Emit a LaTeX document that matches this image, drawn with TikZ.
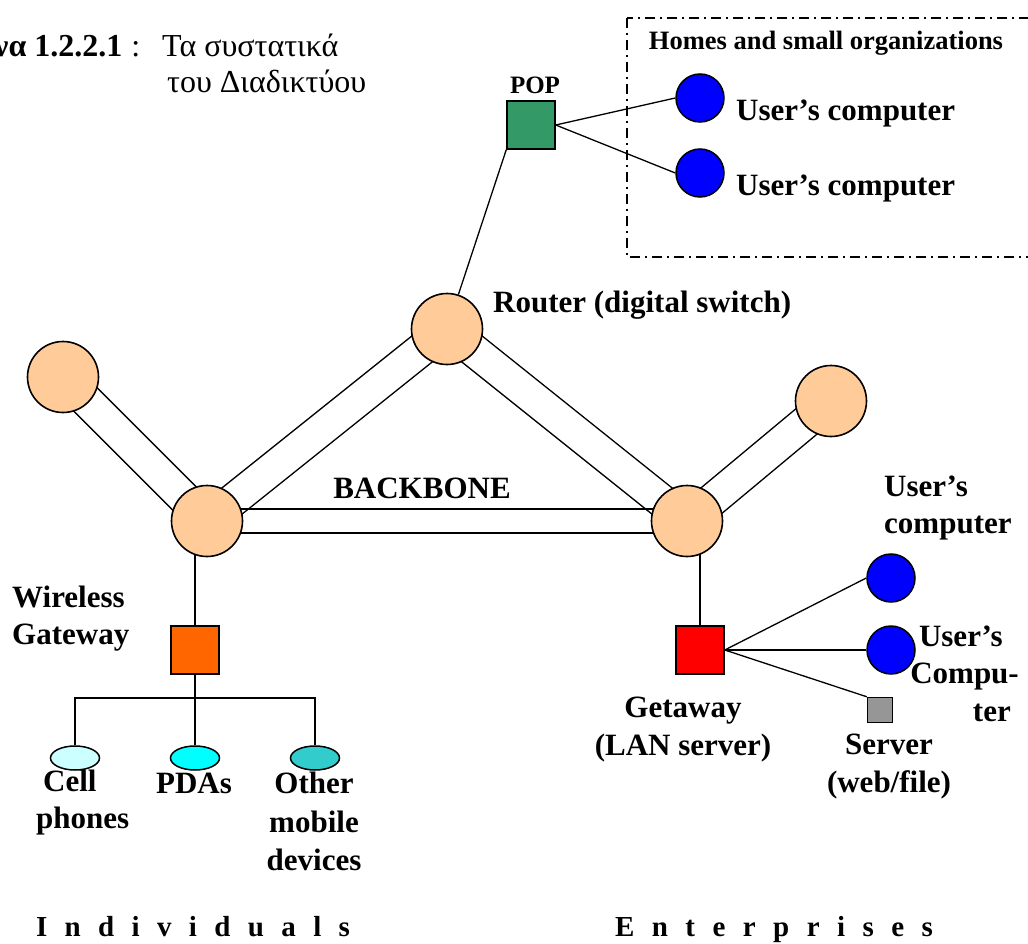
\documentclass[tikz,border=0pt]{standalone}
\usepackage{fontspec}
\setmainfont{Liberation Serif}
\usetikzlibrary{calc,shapes.geometric}
\pgfdeclarelayer{background}
\pgfsetlayers{background,main}

\definecolor{peach}{HTML}{FFCC99}
\definecolor{popgreen}{HTML}{339966}
\definecolor{pcblue}{HTML}{0000FF}
\definecolor{wlorange}{HTML}{FF6600}
\definecolor{lanred}{HTML}{FF0000}
\definecolor{srvgray}{HTML}{969696}
\definecolor{cellc}{HTML}{CCFFFF}
\definecolor{pdac}{HTML}{00FFFF}
\definecolor{otherc}{HTML}{33CCCC}

\tikzset{
  wire/.style={line width=1.3pt},
  router/.style={circle, draw, line width=1.6pt, fill=peach, minimum size=71pt, inner sep=0pt},
  pc/.style={circle, draw, line width=1.5pt, fill=pcblue, minimum size=48pt, inner sep=0pt},
  gate/.style={rectangle, draw, line width=1.5pt, minimum size=48pt, inner sep=0pt},
  device/.style={ellipse, draw, line width=1.5pt, minimum width=49pt, minimum height=24pt, inner sep=0pt},
  lbl/.style={font=\bfseries\fontsize{31}{37.5}\selectfont, inner sep=0pt, align=center},
  small/.style={font=\bfseries\fontsize{25}{30}\selectfont, inner sep=0pt},
  group/.style={font=\bfseries\fontsize{29}{34}\selectfont, inner sep=0pt},
  title/.style={font=\fontsize{32}{36}\selectfont, inner sep=0pt, anchor=base west},
}

\begin{document}
\begin{tikzpicture}[x=1pt, y=-1pt]
\useasboundingbox (0,0) rectangle (1028,944);

% title
\node[title] (t1) at (-6,57) {{\bfseries να 1.2.2.1}\hspace{9pt}:\hspace{22pt}Τα συστατικά};
\node[title] (t2) at (167,93) {του Διαδικτύου};

% homes and small organizations
\draw[line width=2pt, dash pattern=on 10pt off 5pt on 2pt off 5pt] (627,18) rectangle (1040,257);
\node[font=\bfseries\fontsize{26.5}{30}\selectfont, inner sep=0pt] (homes) at (826,43) {Homes and small organizations};
\node[gate, fill=popgreen] (pop) at (531,125) {};
\node[small] (popl) at (535,85) {POP};
\node[pc] (hc1) at (700,98) {};
\node[pc] (hc2) at (700,173) {};
\node[lbl, anchor=west] (hc1l) at (736,113) {User’s computer};
\node[lbl, anchor=west] (hc2l) at (736,188) {User’s computer};
\draw[wire] (pop.east) -- (hc1.west);
\draw[wire] (pop.east) -- (hc2.west);

% backbone routers
\node[router] (rtop) at (447,329) {};
\node[router] (rfarL) at (63,377) {};
\node[router] (hubL) at (207,521) {};
\node[router] (hubR) at (687,521) {};
\node[router] (rfarR) at (831,401) {};
\node[lbl, anchor=west] (rtopl) at (493,305) {Router (digital switch)};
\node[lbl] (bbl) at (422,488) {BACKBONE};
\draw[wire] (pop.south west) -- (rtop);

% gateways
\node[gate, fill=wlorange] (wgw) at (195,650) {};
\node[gate, fill=lanred] (gwy) at (700,650) {};

% double-line trunks and drops, kept behind the routers
\begin{pgfonlayer}{background}
\foreach \a/\b/\w in {rfarL/hubL/16.5, hubL/rtop/16.5, rtop/hubR/16.5, hubR/rfarR/16.5, hubL/hubR/12}{
  \draw[wire] ($(\a)!\w pt!90:(\b)$) -- ($(\b)!\w pt!-90:(\a)$);
  \draw[wire] ($(\a)!\w pt!-90:(\b)$) -- ($(\b)!\w pt!90:(\a)$);
}
\draw[wire] (wgw.north) -- (wgw.north |- hubL.center);
\draw[wire] (gwy.north) -- (gwy.north |- hubR.center);
\end{pgfonlayer}

% individuals
\node[lbl, align=left, anchor=west] (wgwl) at (12,618.5) {Wireless\\Gateway};
\node[device, fill=cellc] (cell) at (75,758) {};
\node[device, fill=pdac] (pda) at (195,758) {};
\node[device, fill=otherc] (other) at (315,758) {};
\coordinate (br) at (195,698);
\draw[wire] (wgw.south) -- (br);
\draw[wire] (cell.north) |- (br) -| (other.north);
\draw[wire] (pda.north) -- (br);
\node[lbl, align=left, anchor=west] (celll) at (36,802.5) {\hspace*{7pt}Cell\\phones};
\node[lbl] (pdal) at (194,783) {PDAs};
\node[lbl, font=\bfseries\fontsize{31}{38.5}\selectfont] (otherl) at (314,821.5) {Other\\mobile\\devices};

% enterprises
\node[pc] (uc1) at (891,578) {};
\node[pc] (uc2) at (891,650) {};
\node[rectangle, draw, line width=1.5pt, fill=srvgray, minimum size=25pt, inner sep=0pt] (srv) at (880,710) {};
\draw[wire] (gwy.east) -- (uc1.west);
\draw[wire] (gwy.east) -- (uc2.west);
\draw[wire] (gwy.east) -- (srv.north west);
\node[lbl, align=left, anchor=west] (uc1l) at (884,508) {User’s\\computer};
\node[lbl, align=right, anchor=east] (uc2l) at (1019,673.5) {User’s\hspace*{16pt}\\Compu-\\ter\hspace*{8pt}};
\node[lbl] (gwyl) at (683,729.5) {Getaway\\(LAN server)};
\node[lbl] (srvl) at (889,766.5) {Server\\(web/file)};

% group captions
\node[group, anchor=base] (indiv) at (193,936) {\hbox to 314pt{I\hfill n\hfill d\hfill i\hfill v\hfill i\hfill d\hfill u\hfill a\hfill l\hfill s}};
\node[group, anchor=base] (enter) at (774,936) {\hbox to 318pt{E\hfill n\hfill t\hfill e\hfill r\hfill p\hfill r\hfill i\hfill s\hfill e\hfill s}};
\end{tikzpicture}
\end{document}
